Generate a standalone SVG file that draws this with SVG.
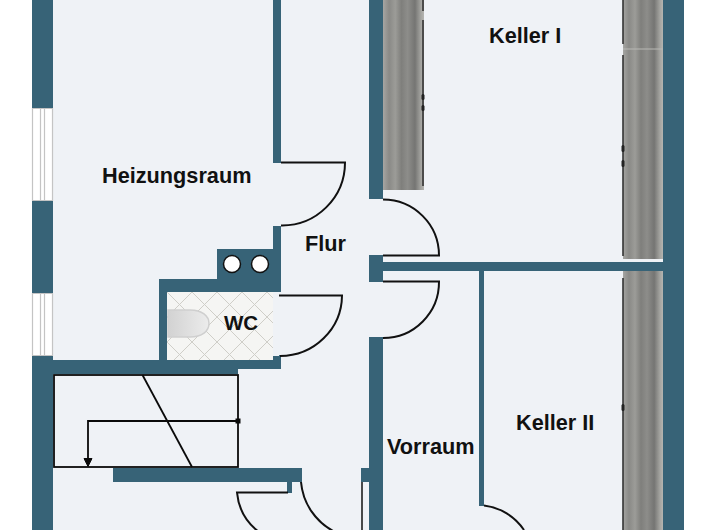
<svg xmlns="http://www.w3.org/2000/svg" width="720" height="530" viewBox="0 0 720 530">
<style>
.wall{fill:#376377}
.door{fill:none;stroke:#111;stroke-width:2}
.stair{fill:none;stroke:#0a0a0a;stroke-width:1.800}
.label{font-family:"Liberation Sans",Arial,sans-serif;font-weight:700;font-size:21.700px;fill:#111}
.wc-label{font-size:20.500px}
.win{stroke:#c4c4c4;stroke-width:1.200;fill:none}
</style>
<defs>
<linearGradient id="stone" x1="0" y1="0" x2="1" y2="0">
<stop offset="0" stop-color="#a5a5a2"/><stop offset=".15" stop-color="#8a8a87"/><stop offset=".3" stop-color="#9c9c98"/><stop offset=".45" stop-color="#7f7f7c"/><stop offset=".6" stop-color="#8d8d8a"/><stop offset=".78" stop-color="#757573"/><stop offset=".92" stop-color="#a3a39f"/><stop offset="1" stop-color="#b5b5b1"/>
</linearGradient>
<linearGradient id="bowl" x1="0" y1="0" x2="1" y2="0">
<stop offset="0" stop-color="#d2d2d2"/><stop offset="1" stop-color="#ececec"/>
</linearGradient>
<pattern id="tile" width="25" height="25" patternUnits="userSpaceOnUse" patternTransform="translate(167 292)">
<rect width="25" height="25" fill="#f5f5f3"/>
<path d="M0 0L25 25M25 0L0 25" stroke="#cfcec8" stroke-width="1"/>
</pattern>
</defs>
<rect width="720" height="530" fill="#fff"/>
<rect x="53" y="0" width="610" height="530" fill="#eff2f6"/>

<g id="stone-strips">
<rect x="383" y="0" width="41" height="190" fill="url(#stone)"/>
<rect x="623" y="0" width="40" height="259" fill="url(#stone)"/>
<rect x="623" y="271" width="40" height="259" fill="url(#stone)"/>
<path d="M423 0V11M423 20V186M623 0V44M623 55V256M623 278V530" stroke="#333" stroke-width="1.600" fill="none"/>
<path d="M623 49H663" stroke="#b9b9b5" stroke-width="1"/>
<rect x="421.500" y="94" width="3" height="6" rx="1.500" fill="#222"/><rect x="421.500" y="105" width="3" height="6" rx="1.500" fill="#222"/>
<rect x="621.500" y="145" width="3" height="7" rx="1.500" fill="#222"/><rect x="621.500" y="160" width="3" height="7" rx="1.500" fill="#222"/>
<rect x="621.500" y="404" width="3" height="7" rx="1.500" fill="#222"/>
</g>

<g id="walls">
<rect class="wall" x="32" y="0" width="21" height="108"/>
<rect class="wall" x="32" y="201" width="21" height="92"/>
<rect class="wall" x="32" y="356" width="21" height="174"/>
<rect class="wall" x="53" y="360" width="185" height="14"/>
<rect class="wall" x="238" y="360" width="43" height="9"/>
<rect class="wall" x="273" y="355" width="8" height="6"/>
<rect class="wall" x="273" y="0" width="8" height="163"/>
<rect class="wall" x="273" y="226" width="8" height="66"/>
<rect class="wall" x="217" y="249" width="64" height="43"/>
<rect class="wall" x="159" y="279" width="122" height="13"/>
<rect class="wall" x="159" y="279" width="8" height="82"/>
<rect class="wall" x="369" y="0" width="14" height="199"/>
<rect class="wall" x="369" y="255" width="14" height="27"/>
<rect class="wall" x="369" y="337" width="14" height="193"/>
<rect class="wall" x="383" y="262" width="280" height="9"/>
<rect class="wall" x="663" y="0" width="21" height="530"/>
<rect class="wall" x="479" y="271" width="5" height="235"/>
<rect class="wall" x="113" y="468" width="189" height="14"/>
<rect class="wall" x="287" y="482" width="5" height="11"/>
<rect class="wall" x="361" y="468" width="8" height="14"/>
</g>

<g id="windows">
<path class="win" d="M32.500 108V201M40.500 108V201M44.500 108V201M52.500 108V201M32 108.500H53M32 200.500H53"/>
<path class="win" d="M32.500 293V356M40.500 293V356M44.500 293V356M52.500 293V356M32 293.500H53M32 355.500H53"/>
</g>

<g id="shaft">
<circle cx="232" cy="264" r="8.500" fill="#fff" stroke="#111" stroke-width="1.500"/>
<circle cx="260" cy="264" r="8.500" fill="#fff" stroke="#111" stroke-width="1.500"/>
</g>

<g id="wc">
<rect x="167" y="292" width="106" height="68" fill="url(#tile)"/>
<path d="M273 292h6v64h-6z" fill="#eff2f6"/>
<path d="M168 310H190C202 310 209 316 209 323.500C209 331 202 337 190 337H168Z" fill="url(#bowl)" stroke="#cfcfcf" stroke-width="1.500"/>
<text class="label wc-label" x="224" y="330">WC</text>
</g>

<g id="connectors">
<path class="door" d="M281 162.500H345A63 63 0 0 1 281 225.500"/>
<path class="door" d="M279 295.500H342A62 61 0 0 1 280 356"/>
<path class="door" d="M383 199.500A56 56 0 0 1 439 255.500H383"/>
<path class="door" d="M383 281.500H439A56 56 0 0 1 383 338"/>
<path class="door" d="M484 505.500A56 56 0 0 1 524 530"/>
<path class="door" d="M288 492.500H237A56 56 0 0 0 259 532"/>
<path class="door" d="M301 482A62 62 0 0 0 335 532"/>
<path d="M362 482V530" stroke="#111" stroke-width="1.500" fill="none"/>
</g>

<g id="stairs">
<rect class="stair" x="54" y="375" width="184" height="92"/>
<path class="stair" d="M142.500 375L192 467"/>
<path class="stair" d="M238 421H88V460"/>
<path d="M84 458.500H92L88 466.500Z" fill="#0a0a0a" stroke="#0a0a0a"/>
<rect x="235.500" y="418.500" width="5" height="5" fill="#0a0a0a"/>
</g>

<g id="labels">
<text class="label" x="102" y="182.500">Heizungsraum</text>
<text class="label" x="305" y="250.500">Flur</text>
<text class="label" x="489" y="42.500">Keller I</text>
<text class="label" x="516" y="429.500">Keller II</text>
<text class="label" x="387" y="453.500">Vorraum</text>
</g>
</svg>
